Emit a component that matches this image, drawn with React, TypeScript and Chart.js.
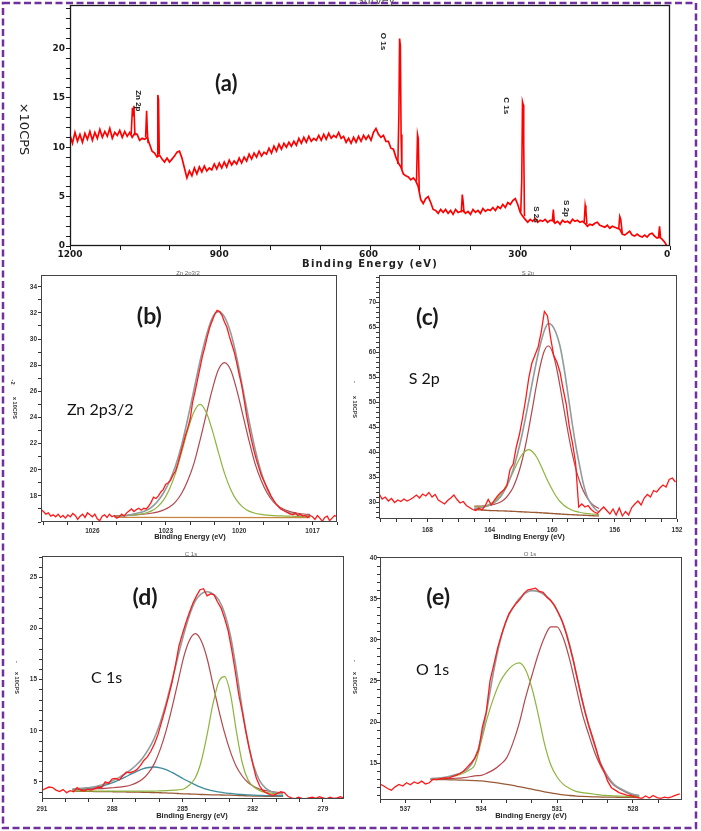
import React, { useEffect, useRef } from 'react';
import { Chart, registerables } from 'chart.js';

Chart.register(...registerables);

// ---------------- (a) Survey ----------------
const surveyStartEV = 1200;
const surveyStepEV = 5;
const surveyCounts = [
  11.2, 10.4, 11.5, 10.6, 11.3, 10.5, 11.4, 10.8, 11.6, 10.7,
  11.5, 10.9, 11.8, 11.0, 11.6, 11.1, 11.9, 10.9, 11.5, 11.2,
  11.7, 11.0, 11.6, 11.1, 11.5, 11.0, 11.4, 11.3, 10.7, 10.9,
  10.8, 11.0, 10.3, 9.6, 9.4, 9.0, 9.2, 8.8, 8.5, 8.9,
  8.5, 8.8, 9.1, 9.5, 9.6, 8.9, 7.9, 6.9, 7.6, 7.1,
  7.9, 7.3, 8.0, 7.5, 8.1, 7.6, 7.9, 7.7, 8.3, 7.8,
  8.4, 7.9, 8.5, 8.0, 8.7, 8.2, 8.6, 8.3, 8.9, 8.4,
  9.0, 8.6, 9.3, 8.8, 9.4, 9.0, 9.6, 9.1, 9.5, 9.3,
  9.9, 9.4, 10.1, 9.6, 10.3, 9.8, 10.4, 10.0, 10.5, 10.1,
  10.6, 10.2, 10.9, 10.4, 11.0, 10.5, 11.1, 10.6, 10.9, 10.7,
  11.2, 10.7, 11.3, 10.8, 11.4, 10.9, 11.2, 11.0, 11.5, 10.9,
  11.1, 10.5, 10.9, 10.4, 11.0, 10.5, 11.1, 10.6, 11.2, 10.8,
  11.2, 10.7, 11.5, 11.9, 11.3, 11.0, 11.2, 10.6, 10.6, 9.9,
  9.8, 9.0, 8.4, 8.0, 7.3, 7.1, 7.0, 6.7, 6.9, 6.6,
  6.0, 4.7, 4.3, 4.8, 5.0, 4.4, 3.7, 3.6, 3.3, 3.7,
  3.4, 3.7, 3.3, 3.6, 3.2, 3.7, 3.4, 3.5, 3.6, 3.3,
  3.5, 3.2, 3.7, 3.4, 3.6, 3.3, 3.8, 3.5, 3.7, 3.6,
  3.9, 3.6, 4.0, 3.8, 4.2, 3.9, 4.4, 4.2, 4.6, 4.8,
  4.2, 3.4, 3.0, 2.7, 2.4, 2.7, 2.5, 2.8, 2.4, 2.6,
  2.5, 2.7, 2.4, 2.6, 2.6, 2.3, 2.5, 2.2, 2.6, 2.4,
  2.5, 2.3, 2.7, 2.5, 2.6, 2.4, 2.5, 2.3, 2.0, 2.2,
  2.1, 2.3, 2.4, 2.1, 2.0, 1.9, 2.1, 1.8, 2.0, 1.9,
  1.8, 1.7, 1.2, 1.1, 1.3, 1.5, 1.1, 1.0, 1.2, 1.0,
  0.9, 1.1, 0.9, 1.2, 1.3, 1.0, 0.8, 0.9, 0.7, 0.4,
  0.0,
];
const surveyPeaks: [number, number][][] = [
  [[1077, 11.3], [1074.5, 14.0], [1073, 13.2], [1071.5, 14.2], [1069.5, 11.2]],
  [[1048, 11.0], [1046, 13.7], [1044.5, 11.6], [1043, 10.4]],
  [[1025, 9.1], [1023.5, 15.3], [1022, 14.8], [1020.5, 9.3]],
  [[541, 8.3], [539, 13.2], [537.5, 21.0], [536, 20.3], [534.5, 11.3], [533, 7.8]],
  [[503.5, 6.6], [501.5, 11.3], [500, 10.9], [498, 5.6]],
  [[413.5, 3.4], [411.5, 5.2], [410, 4.6], [408, 3.4]],
  [[294, 3.4], [292, 6.6], [290.5, 14.6], [289, 14.3], [288, 10.3], [286.5, 3.0]],
  [[230.5, 2.5], [228.5, 3.7], [226.5, 2.4]],
  [[166.5, 2.4], [164.5, 4.1], [163, 3.6], [161, 2.2]],
  [[97, 1.8], [95, 3.0], [93, 2.7], [90, 1.3]],
  [[17, 0.9], [15, 2.0], [13, 0.9]],
];
const surveyPeakNames = ['Zn 2p', 'O 1s', 'C 1s', 'S 2s', 'S 2p'];
const surveyPeakNameEV = [1063, 571, 323.6, 263.5, 203.3];
const surveyPeakNameCPS = [14.7, 20.7, 14.2, 3.2, 3.8];
const surveyXTicks = [1200, 900, 600, 300, 0];
const surveyYTicks = [0, 5, 10, 15, 20];

// ---------------- (b) Zn 2p3/2 ----------------
const znRawStart = 1028.1;
const znRawStep = 0.1;
const znRaw = [
  16.95, 16.8, 16.6, 16.7, 16.45, 16.55, 16.4, 16.6, 16.35, 16.5,
  16.3, 16.55, 16.4, 16.65, 16.5, 16.2, 16.45, 16.6, 16.35, 16.7,
  16.55, 16.4, 16.6, 16.25, 16.1, 16.45, 16.55, 16.35, 16.6, 16.4,
  16.5, 16.3,
  16.4, 16.6, 16.45, 16.7, 16.85, 17.0, 16.8, 16.95, 17.05, 16.9,
  17.05, 17.0, 17.2, 17.5, 17.9, 17.8, 18.0, 18.3, 18.5, 18.9,
  19.0, 19.2, 19.6, 19.9, 20.5, 21.2, 21.9, 22.6, 23.2, 23.9,
  25.2, 26.0, 26.9, 27.8, 28.7, 29.4, 30.2, 30.9, 31.4, 31.9,
  32.2, 32.1, 31.8, 31.3, 30.9, 30.2, 29.6, 29.0, 28.2, 27.3,
  26.5, 25.4, 24.2, 23.2, 22.3, 21.5, 20.8, 20.2, 19.6, 19.2,
  18.8, 18.4, 18.0, 17.7, 17.4, 17.2, 17.0, 16.9, 16.8, 16.7,
  16.6, 16.55, 16.7, 16.5, 16.6, 16.45, 16.5, 16.35, 16.5, 16.4,
  16.2, 16.5, 16.3, 16.05, 16.35, 16.45, 16.1, 16.3, 16.5, 16.4,
];
const znFitStart = 1025.1;
const znFitStep = 0.25;
const znBaseEV = [1025.1, 1017.1];
const znBase = [16.35, 16.33];
const znGreen = [
  16.45, 16.47, 16.49, 16.53, 16.59, 16.67, 16.83, 17.14, 17.65, 18.51, 19.74, 21.35, 23.03, 24.41, 25.0,
  24.41, 23.03, 21.35, 19.74, 18.51, 17.65, 17.14, 16.83, 16.67, 16.59, 16.53, 16.49, 16.47, 16.45,
  16.44, 16.43, 16.42, 16.41,
];
const znRed = [
  16.47, 16.49, 16.51, 16.54, 16.57, 16.61, 16.67, 16.76, 16.91, 17.14, 17.54, 18.2, 19.18, 20.47,
  22.25, 24.2, 26.13, 27.65, 28.2, 27.65, 26.13, 24.2, 22.25, 20.47, 19.18, 18.2, 17.54, 17.14,
  16.91, 16.76, 16.67, 16.61, 16.57,
];
const znEnvelope = [
  16.4, 16.45, 16.5, 16.6, 16.7, 16.85, 17.1, 17.55, 18.2, 19.1, 20.3, 21.9, 23.9, 26.1, 28.3,
  30.2, 31.6, 32.1, 31.7, 30.5, 28.6, 26.2, 23.8, 21.6, 19.8, 18.5, 17.6, 17.1, 16.8, 16.65,
  16.55, 16.5, 16.45,
];
const znXTicks = [1026, 1023, 1020, 1017];
const znYTicks = [18, 20, 22, 24, 26, 28, 30, 32, 34];

// ---------------- (c) S 2p ----------------
const sRawStart = 171.1;
const sRawStep = 0.2;
const sRaw = [
  31.7, 30.6, 31.0, 30.2, 30.7, 29.9, 30.4, 30.1, 30.6, 30.2,
  30.5, 30.9, 31.4, 30.8, 31.6, 31.2, 31.9, 31.0, 31.5, 30.4,
  30.0, 29.6, 30.3, 30.8, 31.4, 30.5, 29.8, 30.1, 29.3, 28.9,
  28.5, 28.3, 28.8, 28.4, 29.2, 30.5, 29.4, 30.4, 31.2, 31.9,
  32.4, 33.3, 36.5, 37.6, 41.0, 43.5, 46.8, 50.5, 54.8, 57.8,
  59.4, 61.0, 64.0, 68.1, 67.2, 62.8, 59.3, 58.0, 56.0, 52.6,
  49.6, 45.0, 41.8, 37.8, 29.0, 29.6, 29.0, 29.3, 28.5, 28.0,
  27.7, 28.4, 29.0, 28.3, 27.6, 28.6, 27.4, 28.8, 27.2, 28.1,
  27.4, 28.9, 29.6, 30.2, 29.4, 30.8, 31.5, 31.0, 32.3, 32.0,
  32.8, 33.4, 33.0, 34.5, 34.8, 34.0,
];
const sFitStart = 165.0;
const sFitStep = 0.25;
const sBase = [
  28.5, 28.45, 28.4, 28.35, 28.3, 28.28, 28.25, 28.22, 28.2, 28.16, 28.12, 28.09, 28.05, 28.0,
  27.96, 27.93, 27.9, 27.85, 27.8, 27.75, 27.7, 27.65, 27.6, 27.55, 27.5, 27.46, 27.42, 27.39,
  27.35, 27.31, 27.27, 27.24, 27.2,
];
const sGreen = [
  29.0, 29.0, 29.1, 29.3, 29.6, 30.1, 30.75, 31.7, 33.0, 34.4, 36.0, 37.7, 39.15, 40.1, 40.46,
  40.0, 39.0, 37.45, 35.7, 34.0, 32.5, 31.15, 30.1, 29.35, 28.8, 28.4, 28.13, 27.95, 27.8, 27.7,
  27.6, 27.55, 27.47,
];
const sRed = [
  29.15, 29.17, 29.2, 29.25, 29.34, 29.52, 29.75, 30.1, 30.7, 31.66, 32.97, 34.9, 37.45, 40.7,
  44.66, 49.03, 53.5, 57.45, 60.25, 61.2, 60.15, 57.25, 53.2, 48.65, 44.2, 40.16, 36.82, 34.19,
  32.2, 30.81, 29.77, 29.14, 28.7,
];
const sEnvelope = [
  28.7, 28.8, 28.9, 29.1, 29.4, 29.8, 30.4, 31.3, 32.6, 34.3, 36.5, 39.3, 42.5, 46.2, 50.2, 54.3,
  58.2, 61.6, 64.3, 65.7, 65.3, 63.8, 61.2, 57.0, 51.8, 46.4, 41.5, 37.4, 33.6, 31.0, 29.6, 28.6,
  28.0,
];
const sXTicks = [168, 164, 160, 156, 152];
const sYTicks = [30, 35, 40, 45, 50, 55, 60, 65, 70];

// ---------------- (d) C 1s ----------------
const cRawStart = 291;
const cRawStep = 0.15;
const cRaw = [
  4.2, 4.35, 4.5, 4.45, 4.2, 4.05, 4.25, 3.95, 4.15, 4.05,
  4.45, 4.2, 4.1, 4.3, 4.2, 4.35, 4.5, 4.45, 5.0, 4.85,
  5.3, 5.35, 5.2, 5.6, 5.95, 5.9, 6.0, 6.2, 6.6, 7.1,
  7.45, 8.0, 8.7, 9.6, 10.8, 12.0, 13.3, 14.7, 16.4, 18.3,
  19.5, 20.6, 21.6, 22.5, 23.2, 23.8, 23.9, 23.2, 23.4, 23.3,
  22.6, 22.0, 21.0, 19.8, 18.0, 15.9, 13.6, 11.9, 10.0, 8.3,
  6.8, 5.4, 4.6, 4.1, 3.9, 3.75, 3.7, 3.85, 4.05, 3.95,
  3.6, 3.45, 3.35, 3.5, 3.4, 3.35, 3.45, 3.5, 3.4, 3.55,
  3.45, 3.35, 3.5, 3.4, 3.45, 3.55, 3.4,
];
const cFitStart = 289.7;
const cFitStep = 0.25;
const cBase = [
  4.1, 4.09, 4.08, 4.07, 4.06, 4.05, 4.05, 4.04, 4.03, 4.02, 4.01, 4.0, 3.99, 3.97, 3.96, 3.94,
  3.92, 3.9, 3.87, 3.84, 3.82, 3.8, 3.77, 3.75, 3.74, 3.73, 3.71, 3.7, 3.68, 3.66, 3.64, 3.62,
  3.61, 3.6, 3.6, 3.6, 3.6,
];
const cBlue = [
  4.23, 4.26, 4.3, 4.37, 4.45, 4.57, 4.75, 4.96, 5.21, 5.47, 5.76, 6.03, 6.27, 6.41, 6.46, 6.38,
  6.2, 5.93, 5.62, 5.29, 5.0, 4.72, 4.47, 4.27, 4.13, 4.03, 3.93, 3.87, 3.81, 3.77, 3.73, 3.7,
  3.68, 3.66, 3.66, 3.65, 3.65,
];
const cRed = [
  4.28, 4.28, 4.3, 4.31, 4.33, 4.35, 4.4, 4.43, 4.49, 4.57, 4.7, 4.93, 5.29, 5.89, 6.79, 8.18,
  10.0, 12.22, 14.7, 17.19, 18.86, 19.5, 18.81, 17.1, 14.57, 12.05, 9.79, 7.94, 6.51, 5.58, 4.94,
  4.55, 4.3, 4.15, 4.06, 3.99, 3.95,
];
const cGreen = [
  4.14, 4.13, 4.12, 4.12, 4.11, 4.11, 4.11, 4.11, 4.1, 4.1, 4.1, 4.1, 4.1, 4.1, 4.11, 4.12, 4.14,
  4.18, 4.22, 4.31, 4.7, 5.4, 7.0, 9.6, 12.6, 14.8, 15.3, 13.6, 10.0, 6.9, 5.2, 4.5, 4.15, 3.98,
  3.9, 3.85, 3.8,
];
const cEnvelope = [
  4.3, 4.35, 4.4, 4.45, 4.55, 4.7, 4.9, 5.15, 5.45, 5.8, 6.2, 6.7, 7.35, 8.2, 9.3, 10.8, 12.7,
  14.9, 17.2, 19.4, 21.3, 22.7, 23.4, 23.6, 23.4, 22.8, 21.5, 19.3, 16.0, 12.2, 8.9, 6.5, 5.1,
  4.4, 4.05, 3.9, 3.85,
];
const cXTicks = [291, 288, 285, 282, 279];
const cYTicks = [5, 10, 15, 20, 25];

// ---------------- (e) O 1s ----------------
const oRawStart = 538;
const oRawStep = 0.15;
const oRaw = [
  12.45, 12.2, 11.9, 11.7, 12.1, 12.4, 12.2, 12.6, 12.35, 12.7,
  12.5, 12.8, 12.45, 12.6, 13.05, 13.0, 13.1, 13.2, 13.15, 13.35,
  13.5, 13.7, 14.0, 14.5, 15.0, 15.6, 16.6, 19.4, 21.2, 25.0,
  27.0, 29.0, 30.6, 32.0, 33.2, 33.9, 34.5, 35.0, 35.7, 36.1,
  36.2, 36.3, 35.9, 35.8, 35.2, 34.8, 34.2, 33.3, 32.3, 30.9,
  29.2, 27.4, 25.3, 23.2, 21.3, 19.6, 18.2, 16.7, 15.0, 14.1,
  12.8, 12.0, 11.7, 11.4, 11.25, 11.1, 11.05, 10.9, 10.8, 10.7,
  11.0, 10.75, 11.05, 10.8, 10.7, 10.85, 10.75, 10.9, 11.1, 11.25,
];
const oFitStart = 536.0;
const oFitStep = 0.25;
const oBase = [
  13.0, 13.0, 12.98, 12.96, 12.94, 12.92, 12.9, 12.87, 12.83, 12.75, 12.65, 12.52, 12.4, 12.27,
  12.12, 11.97, 11.82, 11.66, 11.5, 11.36, 11.24, 11.13, 11.05, 10.98, 10.93, 10.9, 10.88, 10.86,
  10.85, 10.84, 10.83, 10.82, 10.81, 10.8,
];
const oGreen = [
  13.1, 13.15, 13.2, 13.3, 13.45, 13.7, 14.1, 14.8, 17.6, 20.6, 23.0, 24.9, 26.1, 26.9, 27.2,
  26.4, 24.2, 21.0, 17.4, 14.8, 13.3, 12.4, 11.9, 11.55, 11.4, 11.3, 11.2, 11.1, 11.05, 11.0,
  10.97, 10.95, 10.93, 10.9,
];
const oRed = [
  13.05, 13.05, 13.1, 13.1, 13.15, 13.2, 13.3, 13.45, 13.5, 13.8, 14.2, 14.8, 15.6, 17.4, 19.8,
  22.9, 25.6, 28.2, 30.3, 31.6, 31.6, 30.2, 27.6, 24.3, 21.0, 18.5, 16.2, 14.5, 13.2, 12.3, 11.8,
  11.4, 11.1, 11.0,
];
const oEnvelope = [
  13.1, 13.15, 13.25, 13.4, 13.6, 13.9, 14.4, 15.6, 18.0, 21.9, 26.3, 29.9, 32.4, 33.9, 35.0,
  35.7, 36.0, 35.9, 35.5, 34.8, 33.6, 31.9, 29.4, 26.0, 22.6, 19.6, 17.0, 14.8, 13.4, 12.4, 11.9,
  11.5, 11.2, 11.05,
];
const oXTicks = [537, 534, 531, 528];
const oYTicks = [15, 20, 25, 30, 35, 40];

// ---------------- helpers ----------------
const energies = (start: number, step: number, n: number) =>
  Array.from({ length: n }, (_, i) => Math.round((start - step * i) * 1000) / 1000);
const series = (xs: number[], ys: (number | null)[]) => ys.map((y, i) => ({ x: xs[i], y }));

const C = {
  raw: '#ff1a1a',
  env: '#8f9d9e',
  green: '#8db43e',
  red: '#b3474c',
  blue: '#3f8c9e',
  base: '#9a5a36',
  baseOrange: '#c8843e',
};

type DS = { data: { x: number; y: number | null }[]; color: string; width: number; smooth?: boolean; order: number };
type TextItem = { text: string; x: number; y: number; font: string; color?: string; rotate?: boolean; spacing?: string };
type Note = { text: string; ev: number; val: number; font: string; color?: string; rotate?: boolean };
type AxisSpec = { min: number; max: number; step: number; labels: number[]; font: string };
type PanelSpec = {
  box: { left: number; top: number; width: number; height: number };
  area: { l: number; t: number; r: number; b: number };
  x: AxisSpec & { labelY: number };
  y: AxisSpec & { gap: number };
  tickLen: number;
  tickColor: string;
  frame: { color: string; width: number };
  texts: TextItem[];
  notes: Note[];
  datasets: DS[];
};

function drawText(ctx: CanvasRenderingContext2D, t: { text: string; font: string; color?: string; rotate?: boolean; spacing?: string }, x: number, y: number) {
  ctx.save();
  ctx.translate(x, y);
  if (t.rotate) ctx.rotate(Math.PI / 2);
  ctx.font = t.font;
  ctx.fillStyle = t.color || '#1a1a1a';
  ctx.textAlign = 'center';
  ctx.textBaseline = 'middle';
  (ctx as any).letterSpacing = t.spacing || '0px';
  ctx.fillText(t.text, 0, 0);
  ctx.restore();
}

function makeTextPlugin(spec: PanelSpec) {
  return {
    id: 'panelText',
    afterDraw(chart: any) {
      const ctx: CanvasRenderingContext2D = chart.ctx;
      const a = chart.chartArea;
      const xs = chart.scales.x;
      const ys = chart.scales.y;
      const ox = spec.box.left;
      const oy = spec.box.top;
      ctx.save();
      ctx.strokeStyle = spec.frame.color;
      ctx.lineWidth = spec.frame.width;
      ctx.strokeRect(Math.round(a.left) + 0.5, Math.round(a.top) + 0.5, Math.round(a.right - a.left) - 1, Math.round(a.bottom - a.top) - 1);
      ctx.fillStyle = spec.tickColor;
      ctx.textBaseline = 'middle';
      ctx.textAlign = 'center';
      ctx.font = spec.x.font;
      spec.x.labels.forEach((v) => ctx.fillText(String(v), xs.getPixelForValue(v), spec.x.labelY - oy));
      ctx.textAlign = 'right';
      ctx.font = spec.y.font;
      spec.y.labels.forEach((v) => ctx.fillText(String(v), a.left - spec.y.gap, ys.getPixelForValue(v)));
      ctx.restore();
      spec.texts.forEach((t) => drawText(ctx, t, t.x - ox, t.y - oy));
      spec.notes.forEach((n) => drawText(ctx, n, xs.getPixelForValue(n.ev), ys.getPixelForValue(n.val)));
    },
  };
}

function buildConfig(spec: PanelSpec): any {
  const { box, area } = spec;
  const yW = area.l - box.left;
  const padTop = area.t - box.top;
  const padRight = box.left + box.width - area.r;
  const xH = box.top + box.height - area.b;
  const grid = { drawOnChartArea: false, drawTicks: true, tickLength: spec.tickLen, color: spec.tickColor, tickColor: spec.tickColor, lineWidth: 1 };
  return {
    type: 'line',
    data: {
      datasets: spec.datasets.map((d) => ({
        data: d.data,
        borderColor: d.color,
        borderWidth: d.width,
        pointRadius: 0,
        fill: false,
        tension: 0,
        cubicInterpolationMode: d.smooth ? 'monotone' : 'default',
        order: d.order,
        spanGaps: false,
      })),
    },
    options: {
      responsive: false,
      maintainAspectRatio: false,
      animation: false,
      events: [],
      layout: { padding: { left: 0, top: padTop, right: padRight, bottom: 0 } },
      plugins: { legend: { display: false }, tooltip: { enabled: false }, title: { display: false } },
      scales: {
        x: {
          type: 'linear',
          reverse: true,
          min: spec.x.min,
          max: spec.x.max,
          afterFit: (s: any) => { s.height = xH; },
          ticks: { display: false, stepSize: spec.x.step, includeBounds: false },
          grid,
          border: { display: false },
        },
        y: {
          type: 'linear',
          min: spec.y.min,
          max: spec.y.max,
          afterFit: (s: any) => { s.width = yW; },
          ticks: { display: false, stepSize: spec.y.step, includeBounds: false },
          grid,
          border: { display: false },
        },
      },
    },
    plugins: [makeTextPlugin(spec)],
  };
}

function fitSets(start: number, step: number, sets: { ys: number[]; color: string; width: number; order: number }[]): DS[] {
  return sets.map((s) => ({ data: series(energies(start, step, s.ys.length), s.ys), color: s.color, width: s.width, order: s.order, smooth: true }));
}

const smallTick = 'bold 6.5px "Liberation Sans", Arial, sans-serif';
const smallTitle = 'bold 7.5px "Liberation Sans", Arial, sans-serif';
const tinyY = 'bold 5.5px "Liberation Sans", Arial, sans-serif';
const topTitle = '6px "Liberation Sans", Arial, sans-serif';
const letterFont = 'bold 23px Lato, "Open Sans", sans-serif';
const labelFont = '16px Lato, "Open Sans", sans-serif';

const surveyPeakPoints = surveyPeaks.flatMap((pk) => [
  ...pk.map(([x, y]) => ({ x, y } as { x: number; y: number | null })),
  { x: pk[pk.length - 1][0] - 0.5, y: null },
]);

const panels: PanelSpec[] = [
  {
    box: { left: 0, top: 0, width: 701, height: 270 },
    area: { l: 70, t: 5, r: 670, b: 246 },
    x: { min: -6, max: 1200, step: 100, labels: surveyXTicks, font: 'bold 9px "DejaVu Sans", sans-serif', labelY: 255 },
    y: { min: 0, max: 24.4, step: 1, labels: surveyYTicks, font: 'bold 9px "DejaVu Sans", sans-serif', gap: 5 },
    tickLen: 4,
    tickColor: '#1a1a1a',
    frame: { color: '#1a1a1a', width: 1.3 },
    texts: [
      { text: 'Binding Energy (eV)', x: 370, y: 264, font: 'bold 10px "DejaVu Sans", sans-serif', spacing: '1.2px', color: '#222' },
      { text: '×10CPS', x: 23, y: 129, font: '13px "DejaVu Sans", sans-serif', rotate: true, color: '#222' },
      { text: 'Survey', x: 376, y: 1, font: '11px "DejaVu Sans", sans-serif', color: '#555' },
    ],
    notes: [
      { text: '(a)', ev: 886, val: 16.4, font: 'bold 22px Lato, "Open Sans", sans-serif' },
      ...surveyPeakNames.map((name, i) => ({
        text: name, ev: surveyPeakNameEV[i], val: surveyPeakNameCPS[i],
        font: 'bold 8px "Liberation Sans Narrow", "Liberation Sans", sans-serif', rotate: true, color: '#222',
      })),
    ],
    datasets: [
      { data: series(energies(surveyStartEV, surveyStepEV, surveyCounts.length), surveyCounts), color: '#ff0000', width: 1.7, order: 1 },
      { data: surveyPeakPoints, color: '#ff0000', width: 1.6, order: 0 },
    ],
  },
  {
    box: { left: 0, top: 262, width: 350, height: 284 },
    area: { l: 41, t: 275, r: 337, b: 522 },
    x: { min: 1016, max: 1028.1, step: 1, labels: znXTicks, font: smallTick, labelY: 531 },
    y: { min: 16, max: 34.9, step: 1, labels: znYTicks, font: smallTick, gap: 4 },
    tickLen: 3,
    tickColor: '#333',
    frame: { color: '#444', width: 1 },
    texts: [
      { text: 'Binding Energy (eV)', x: 190, y: 537, font: smallTitle, color: '#222' },
      { text: 'x 10CPS', x: 15, y: 408, font: tinyY, rotate: true, color: '#333' },
      { text: '-2', x: 13, y: 382, font: tinyY, rotate: true, color: '#333' },
      { text: 'Zn 2p3/2', x: 188, y: 273, font: topTitle, color: '#666' },
    ],
    notes: [
      { text: '(b)', ev: 1023.67, val: 31.7, font: letterFont },
      { text: 'Zn 2p3/2', ev: 1025.68, val: 24.6, font: labelFont, color: '#111' },
    ],
    datasets: [
      { data: series(energies(znRawStart, znRawStep, znRaw.length), znRaw), color: C.raw, width: 1.3, order: 0 },
      { data: series(znBaseEV, znBase), color: C.baseOrange, width: 1.2, order: 4 },
      ...fitSets(znFitStart, znFitStep, [
        { ys: znEnvelope, color: C.env, width: 1.6, order: 1 },
        { ys: znGreen, color: C.green, width: 1.2, order: 2 },
        { ys: znRed, color: C.red, width: 1.2, order: 3 },
      ]),
    ],
  },
  {
    box: { left: 350, top: 262, width: 351, height: 284 },
    area: { l: 379, t: 275, r: 677, b: 519 },
    x: { min: 152, max: 171.1, step: 1, labels: sXTicks, font: smallTick, labelY: 530 },
    y: { min: 26.6, max: 75.4, step: 1, labels: sYTicks, font: smallTick, gap: 3 },
    tickLen: 3,
    tickColor: '#333',
    frame: { color: '#444', width: 1 },
    texts: [
      { text: 'Binding Energy (eV)', x: 529, y: 537, font: smallTitle, color: '#222' },
      { text: 'x 10CPS', x: 355, y: 407, font: tinyY, rotate: true, color: '#333' },
      { text: '-', x: 355, y: 382, font: tinyY, rotate: true, color: '#333' },
      { text: 'S 2p', x: 528, y: 273, font: topTitle, color: '#666' },
    ],
    notes: [
      { text: '(c)', ev: 168.0, val: 66.9, font: letterFont },
      { text: 'S 2p', ev: 168.2, val: 54.7, font: labelFont, color: '#111' },
    ],
    datasets: [
      { data: series(energies(sRawStart, sRawStep, sRaw.length), sRaw), color: C.raw, width: 1.3, order: 0 },
      ...fitSets(sFitStart, sFitStep, [
        { ys: sEnvelope, color: C.env, width: 1.6, order: 1 },
        { ys: sGreen, color: C.green, width: 1.2, order: 2 },
        { ys: sRed, color: C.red, width: 1.2, order: 3 },
        { ys: sBase, color: C.base, width: 1.3, order: 4 },
      ]),
    ],
  },
  {
    box: { left: 0, top: 546, width: 350, height: 285 },
    area: { l: 42, t: 556, r: 344, b: 799 },
    x: { min: 278.1, max: 291, step: 1, labels: cXTicks, font: smallTick, labelY: 809 },
    y: { min: 3.33, max: 27.1, step: 1, labels: cYTicks, font: smallTick, gap: 5 },
    tickLen: 3,
    tickColor: '#333',
    frame: { color: '#444', width: 1 },
    texts: [
      { text: 'Binding Energy (eV)', x: 192, y: 816, font: smallTitle, color: '#222' },
      { text: 'x 10CPS', x: 17, y: 683, font: tinyY, rotate: true, color: '#333' },
      { text: '-', x: 17, y: 662, font: tinyY, rotate: true, color: '#333' },
      { text: 'C 1s', x: 191, y: 554, font: topTitle, color: '#666' },
    ],
    notes: [
      { text: '(d)', ev: 286.6, val: 23.0, font: letterFont },
      { text: 'C 1s', ev: 288.24, val: 15.14, font: labelFont, color: '#111' },
    ],
    datasets: [
      { data: series(energies(cRawStart, cRawStep, cRaw.length), cRaw), color: C.raw, width: 1.3, order: 0 },
      ...fitSets(cFitStart, cFitStep, [
        { ys: cEnvelope, color: C.env, width: 1.6, order: 1 },
        { ys: cGreen, color: C.green, width: 1.2, order: 2 },
        { ys: cRed, color: C.red, width: 1.2, order: 3 },
        { ys: cBlue, color: C.blue, width: 1.3, order: 3 },
        { ys: cBase, color: C.base, width: 1.3, order: 5 },
      ]),
    ],
  },
  {
    box: { left: 350, top: 546, width: 351, height: 285 },
    area: { l: 380, t: 557, r: 682, b: 800 },
    x: { min: 526.06, max: 538, step: 1, labels: oXTicks, font: smallTick, labelY: 809.5 },
    y: { min: 10.5, max: 40.1, step: 1, labels: oYTicks, font: smallTick, gap: 3 },
    tickLen: 3,
    tickColor: '#333',
    frame: { color: '#444', width: 1 },
    texts: [
      { text: 'Binding Energy (eV)', x: 531, y: 816, font: smallTitle, color: '#222' },
      { text: 'x 10CPS', x: 355, y: 683, font: tinyY, rotate: true, color: '#333' },
      { text: '-', x: 355, y: 661, font: tinyY, rotate: true, color: '#333' },
      { text: 'O 1s', x: 530, y: 554, font: topTitle, color: '#666' },
    ],
    notes: [
      { text: '(e)', ev: 535.7, val: 35.1, font: letterFont },
      { text: 'O 1s', ev: 535.92, val: 26.4, font: labelFont, color: '#111' },
    ],
    datasets: [
      { data: series(energies(oRawStart, oRawStep, oRaw.length), oRaw), color: C.raw, width: 1.3, order: 0 },
      ...fitSets(oFitStart, oFitStep, [
        { ys: oEnvelope, color: C.env, width: 1.6, order: 1 },
        { ys: oGreen, color: C.green, width: 1.2, order: 2 },
        { ys: oRed, color: C.red, width: 1.2, order: 3 },
        { ys: oBase, color: C.base, width: 1.3, order: 4 },
      ]),
    ],
  },
];

function Panel({ spec }: { spec: PanelSpec }) {
  const ref = useRef<HTMLCanvasElement>(null);
  useEffect(() => {
    const canvas = ref.current;
    if (!canvas) return;
    const chart = new Chart(canvas, buildConfig(spec));
    return () => chart.destroy();
  }, [spec]);
  const { box } = spec;
  return (
    <canvas
      ref={ref}
      width={box.width}
      height={box.height}
      style={{ position: 'absolute', left: box.left, top: box.top, width: box.width, height: box.height }}
    />
  );
}

export default function App() {
  return (
    <div style={{ position: 'absolute', left: 0, top: 0, width: 701, height: 831, background: '#fff', overflow: 'hidden' }}>
      {panels.map((p, i) => (
        <Panel key={i} spec={p} />
      ))}
      <svg width={701} height={831} style={{ position: 'absolute', left: 0, top: 0, pointerEvents: 'none' }}>
        <rect x={3} y={3} width={693} height={825} fill="none" stroke="#7030a0" strokeWidth={2.5} strokeDasharray="7 3.5" />
      </svg>
    </div>
  );
}
